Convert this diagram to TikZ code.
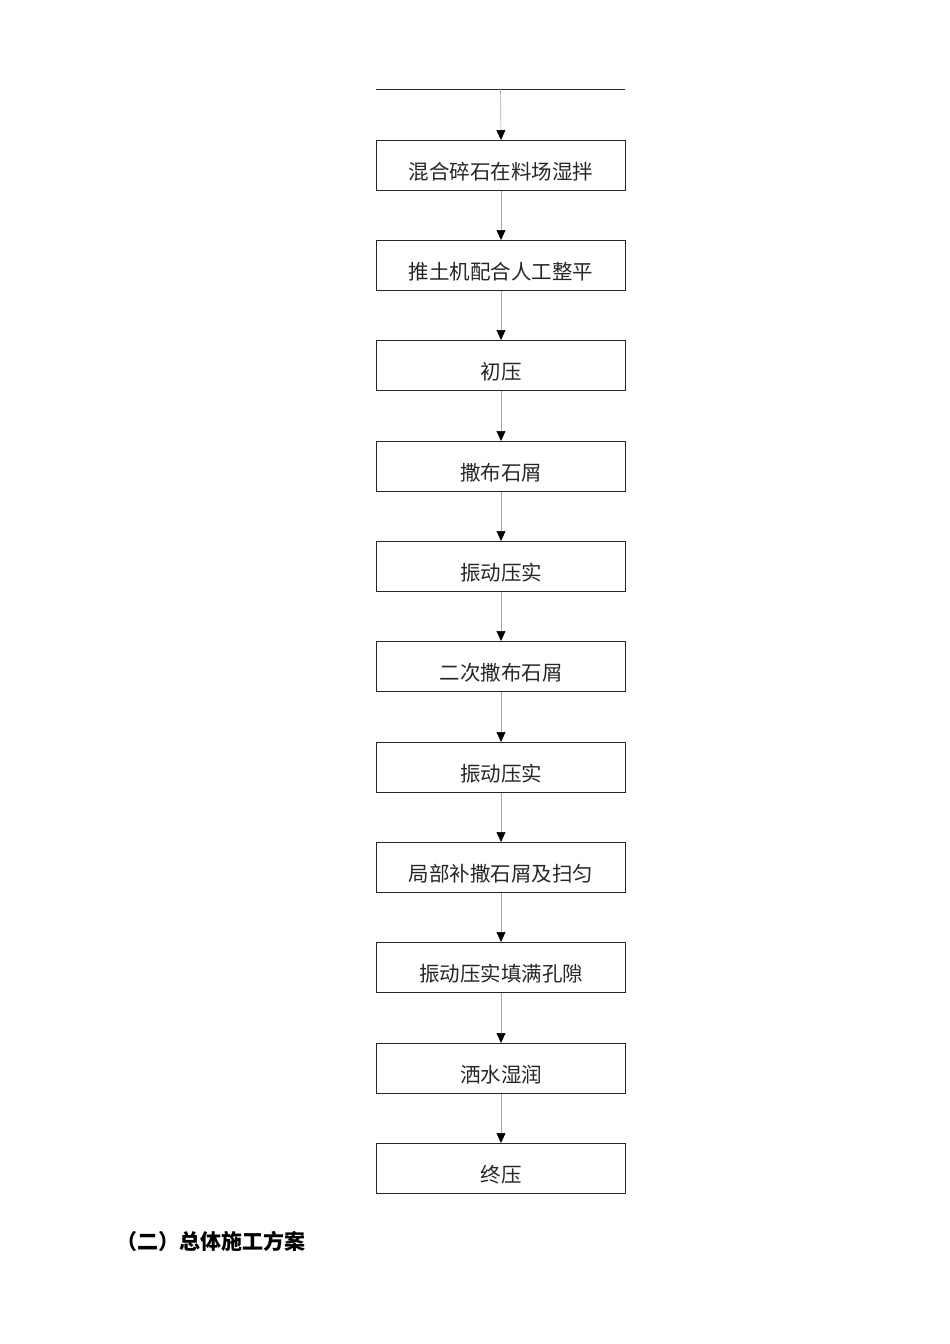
\documentclass[tikz,border=0pt]{standalone}
\usepackage{fontspec}
\newfontfamily\cjk{Noto Sans CJK SC}
\usetikzlibrary{arrows.meta}
\begin{document}
\begin{tikzpicture}[x=1pt,y=-1pt,
  stepbox/.style={draw=black!85,line width=0.9pt,minimum width=249pt,minimum height=50pt,inner sep=0pt,anchor=north},
  steptext/.style={font=\cjk\fontsize{20.5}{20.5}\selectfont,text=black!85,inner sep=0pt},
  flow/.style={draw=black!35,line width=0.6pt,-{Triangle[length=10pt,width=9pt,color=black]}}]
\useasboundingbox (0,0) rectangle (950,1344);
\draw[line width=0.9pt,black!85] (376,89) -- (625,89) coordinate[pos=0.5] (top);
\foreach \i/\t/\y in {1/混合碎石在料场湿拌/140,2/推土机配合人工整平/240,3/初压/340,4/撒布石屑/441,5/振动压实/541,6/二次撒布石屑/641,7/振动压实/742,8/局部补撒石屑及扫匀/842,9/振动压实填满孔隙/942,10/洒水湿润/1043,11/终压/1143}{
  \node[stepbox] (b\i) at (501,\y) {};
  \node[steptext] (t\i) at (501,\y+32) {\t};
}
\draw[flow] (top) -- (b1.north);
\foreach \a/\b in {1/2,2/3,3/4,4/5,5/6,6/7,7/8,8/9,9/10,10/11}{
  \draw[flow] (b\a.south) -- (b\b.north);
}
\node[anchor=west,inner sep=0pt,font=\cjk\bfseries\fontsize{21}{21}\selectfont] (title) at (116,1241) {（二）总体施工方案};
\end{tikzpicture}
\end{document}
